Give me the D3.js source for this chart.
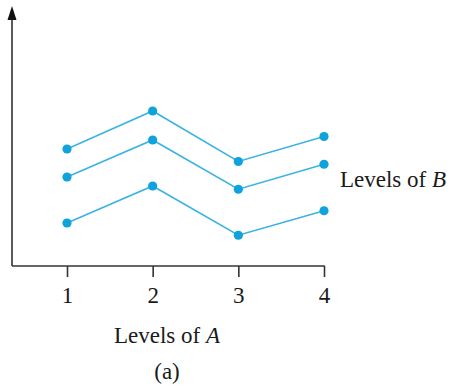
<!DOCTYPE html>
<html>
<head>
<meta charset="utf-8">
<script src="https://cdn.jsdelivr.net/npm/d3@7"></script>
<style>
  body { margin: 0; background: #fff; }
  text { font-family: "Liberation Serif", "Times New Roman", serif; fill: #1a1a1a; }
</style>
</head>
<body>
<svg id="chart" width="457" height="386"></svg>
<script>
// levels of A on the x axis
const levelsA = [1, 2, 3, 4];
// one line per level of B (arbitrary response units)
const seriesTop = [46.8, 62, 41.8, 51.8];
const seriesMid = [35.6, 50.4, 30.7, 40.7];
const seriesLow = [17.2, 32, 12.3, 22.1];
const allSeries = [seriesTop, seriesMid, seriesLow];

const lineColor = "#3bb3e3";
const dotColor = "#0ea3dc";
const axisColor = "#333";

const svg = d3.select("#chart");

const x = d3.scalePoint().domain(levelsA).range([67, 324]);
const y = d3.scaleLinear().domain([0, 100]).range([266, 16]);

// y axis (no ticks, just an arrow)
svg.append("line")
  .attr("x1", 12).attr("y1", 266)
  .attr("x2", 12).attr("y2", 16)
  .attr("stroke", axisColor)
  .attr("stroke-width", 1.6);
svg.append("path")
  .attr("d", "M12,6 L16.5,20 L7.5,20 Z")
  .attr("fill", "#111");

// x axis
const xAxis = svg.append("g")
  .attr("transform", "translate(0,266)")
  .call(d3.axisBottom(x).tickSize(11).tickPadding(10).tickSizeOuter(0));
xAxis.select(".domain").remove();
xAxis.append("line")
  .attr("x1", 12).attr("x2", 324.8)
  .attr("stroke", axisColor).attr("stroke-width", 1.6);
xAxis.selectAll(".tick line").attr("stroke", axisColor).attr("stroke-width", 1.6);
xAxis.selectAll(".tick text")
  .attr("fill", "#1a1a1a")
  .style("font-family", '"Liberation Serif", "Times New Roman", serif')
  .style("font-size", "23px");

// lines + dots
const line = d3.line()
  .x((d, i) => x(levelsA[i]))
  .y(d => y(d));

allSeries.forEach(s => {
  svg.append("path")
    .datum(s)
    .attr("d", line)
    .attr("fill", "none")
    .attr("stroke", lineColor)
    .attr("stroke-width", 1.6);
  svg.selectAll(null)
    .data(s)
    .enter().append("circle")
    .attr("cx", (d, i) => x(levelsA[i]))
    .attr("cy", d => y(d))
    .attr("r", 4.6)
    .attr("fill", dotColor);
});

// labels
const lb = svg.append("text")
  .attr("x", 340).attr("y", 187)
  .style("font-size", "23px");
lb.append("tspan").text("Levels of ");
lb.append("tspan").style("font-style", "italic").text("B");

const la = svg.append("text")
  .attr("x", 167).attr("y", 343)
  .attr("text-anchor", "middle")
  .style("font-size", "23px");
la.append("tspan").text("Levels of ");
la.append("tspan").style("font-style", "italic").text("A");

svg.append("text")
  .attr("x", 167).attr("y", 379)
  .attr("text-anchor", "middle")
  .style("font-size", "23px")
  .text("(a)");
</script>
</body>
</html>
